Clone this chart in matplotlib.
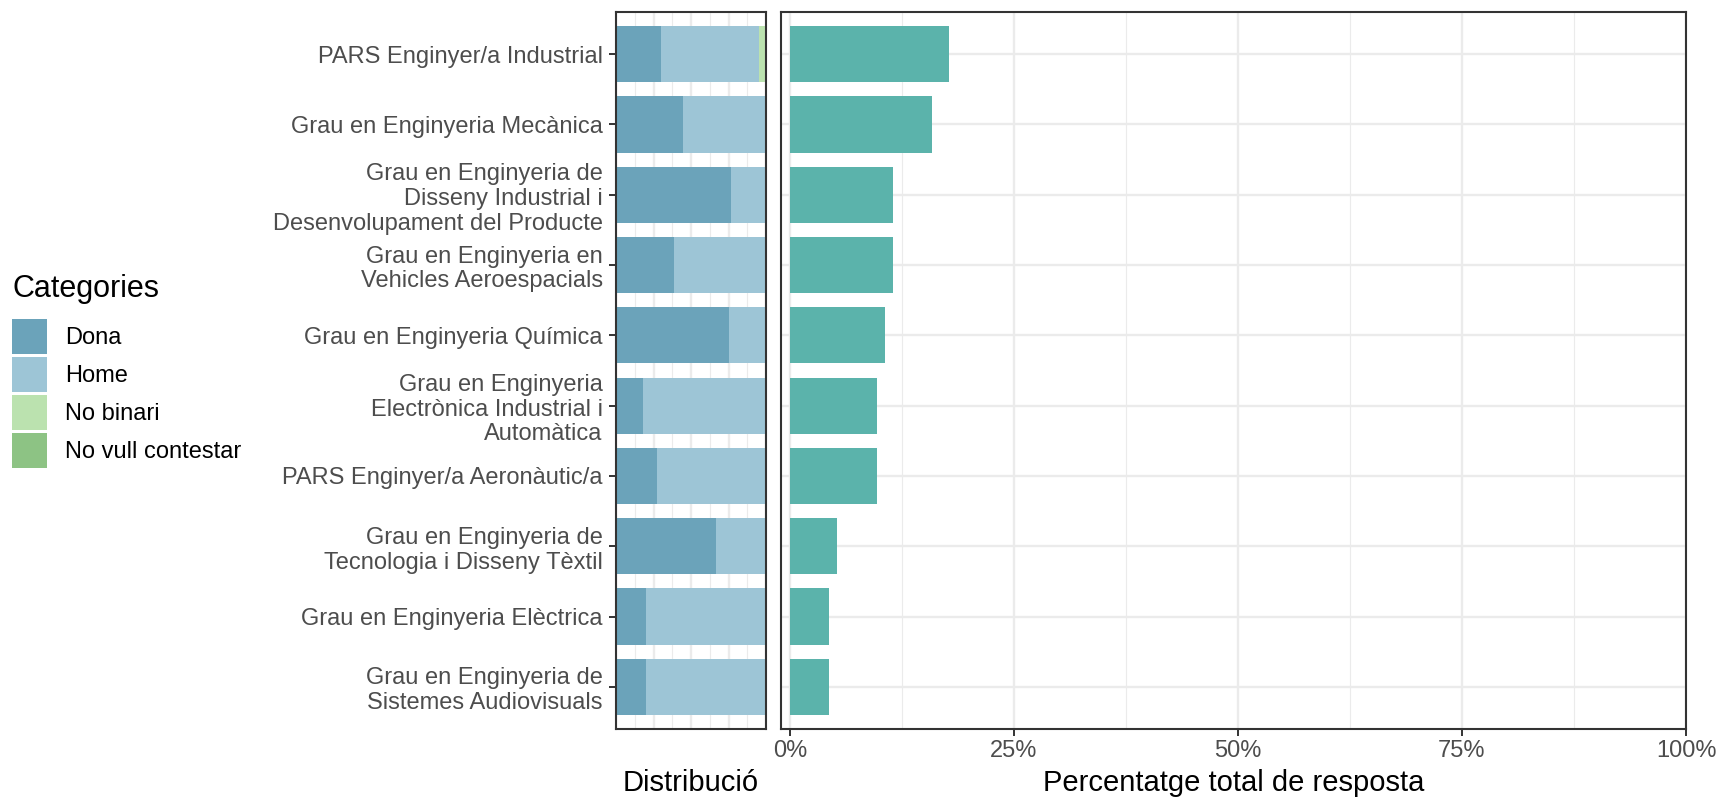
import matplotlib
matplotlib.use("Agg")
import matplotlib.pyplot as plt
import numpy as np
from matplotlib.patches import Patch
from matplotlib.ticker import MultipleLocator, FixedLocator

plt.rcParams['font.family'] = ['Liberation Sans', 'DejaVu Sans']

# ---------------- data ----------------
programs = [
    "PARS Enginyer/a Industrial",
    "Grau en Enginyeria Mecànica",
    "Grau en Enginyeria de\nDisseny Industrial i\nDesenvolupament del Producte",
    "Grau en Enginyeria en\nVehicles Aeroespacials",
    "Grau en Enginyeria Química",
    "Grau en Enginyeria\nElectrònica Industrial i\nAutomàtica",
    "PARS Enginyer/a Aeronàutic/a",
    "Grau en Enginyeria de\nTecnologia i Disseny Tèxtil",
    "Grau en Enginyeria Elèctrica",
    "Grau en Enginyeria de\nSistemes Audiovisuals",
]
categories = ["Dona", "Home", "No binari", "No vull contestar"]
dona = [6, 8, 10, 5, 9, 2, 3, 4, 1, 1]
home = [13, 10, 3, 8, 3, 9, 8, 2, 4, 4]
no_binari = [1, 0, 0, 0, 0, 0, 0, 0, 0, 0]
no_vull = [0, 0, 0, 0, 0, 0, 0, 0, 0, 0]
pct_total = [17.7, 15.9, 11.5, 11.5, 10.6, 9.7, 9.7, 5.3, 4.4, 4.4]
pct_ticks = [0, 25, 50, 75, 100]
pct_tick_labels = ["0%", "25%", "50%", "75%", "100%"]

cat_colors = ["#6BA3BA", "#9DC5D6", "#BBE2AF", "#8DC384"]
teal = "#5BB3AB"
grid_c = "#EBEBEB"
border_c = "#333333"

TXT = 17.0      # tick / legend text size (pt)
TTL = 21.0      # axis title size (pt)
LTTL = 22.0     # legend title size (pt)

W, H = 1721, 799
fig = plt.figure(figsize=(W / 100, H / 100), dpi=100)
bottom = (H - 729) / H
height = 717 / H
axL = fig.add_axes([616 / W, bottom, 150 / W, height])
axR = fig.add_axes([781 / W, bottom, 905 / W, height])

n = len(programs)
y = np.arange(n)

# ---------------- left: distribution ----------------
counts = np.array([dona, home, no_binari, no_vull], dtype=float)
fracs = counts / counts.sum(axis=0)
cum = np.zeros(n)
for i, cat in enumerate(categories):
    axL.barh(y, fracs[i], left=cum, height=0.8, color=cat_colors[i], zorder=2, linewidth=0)
    cum += fracs[i]
axL.set_xlim(0, 1)
axL.set_ylim(n - 0.4, -0.6)
axL.xaxis.set_major_locator(MultipleLocator(0.25))
axL.xaxis.set_minor_locator(MultipleLocator(0.125))
axL.set_yticks(y)
axL.set_yticklabels(programs, linespacing=1.17)
axL.tick_params(axis='x', which='both', length=0, labelbottom=False)
axL.tick_params(axis='y', which='major', length=5.2, width=1.4, color=border_c,
                pad=4.3, labelsize=TXT, labelcolor='#4D4D4D')
axL.grid(which='major', axis='both', color=grid_c, lw=1.7, zorder=0)
axL.grid(which='minor', axis='x', color=grid_c, lw=0.85, zorder=0)
axL.set_axisbelow(True)

# ---------------- right: total percentage ----------------
axR.barh(y, pct_total, height=0.8, color=teal, zorder=2, linewidth=0)
axR.set_xlim(-1.0, 100)
axR.set_ylim(n - 0.4, -0.6)
axR.xaxis.set_major_locator(FixedLocator(pct_ticks))
axR.set_xticklabels(pct_tick_labels)
axR.xaxis.set_minor_locator(MultipleLocator(12.5))
axR.set_yticks(y)
axR.tick_params(axis='y', length=0, labelleft=False)
axR.tick_params(axis='x', which='major', length=5.2, width=1.4, color=border_c,
                pad=2.5, labelsize=TXT, labelcolor='#4D4D4D')
axR.tick_params(axis='x', which='minor', length=0)
axR.grid(which='major', axis='both', color=grid_c, lw=1.7, zorder=0)
axR.grid(which='minor', axis='x', color=grid_c, lw=0.85, zorder=0)
axR.set_axisbelow(True)

for ax in (axL, axR):
    for s in ax.spines.values():
        s.set_color(border_c)
        s.set_linewidth(1.5)
        s.set_zorder(5)

# axis titles
fig.text((616 + 766) / 2 / W, (H - 791) / H, "Distribució", ha='center', va='baseline',
         fontsize=TTL, color='black')
fig.text((781 + 1686) / 2 / W, (H - 791) / H, "Percentatge total de resposta", ha='center',
         va='baseline', fontsize=TTL, color='black')

# legend
fig.text(12 / W, (H - 296.5) / H, "Categories", ha='left', va='baseline', fontsize=LTTL,
         color='black')
fs_px = TXT * 100 / 72
key_px = 35.0
hh = (key_px / fs_px - 0.245) / 0.65   # makes the drawn key exactly key_px tall
handles = [Patch(facecolor=c, edgecolor='none') for c in cat_colors]
fig.legend(handles, categories, loc='upper left', bbox_to_anchor=(12 / W, (H - 319) / H),
           bbox_transform=fig.transFigure, frameon=False, borderpad=0, borderaxespad=0,
           handlelength=key_px / fs_px, handleheight=hh, labelspacing=3 / fs_px,
           handletextpad=18 / fs_px, fontsize=TXT)

fig.savefig("out.png", dpi=100)
